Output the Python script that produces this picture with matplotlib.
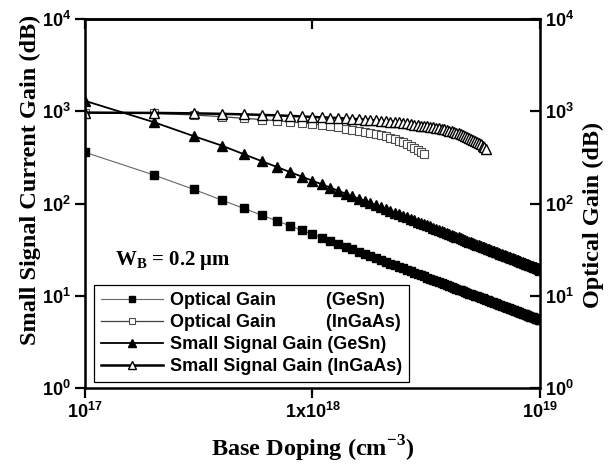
import numpy as np
import matplotlib.pyplot as plt
from matplotlib.font_manager import FontProperties

plt.rcParams['mathtext.fontset'] = 'custom'
plt.rcParams['mathtext.rm'] = 'Liberation Serif:bold'
plt.rcParams['mathtext.bf'] = 'Liberation Serif:bold'
plt.rcParams['mathtext.sf'] = 'Liberation Sans:bold'

# base doping, steps of 1e17 cm^-3
doping = np.arange(1, 101) * 1e17

# optical gain, GeSn (dB)
opt_gesn = [360, 205, 143, 109, 88.7, 74.9, 64.9, 57.3, 51.4, 46.6,
            42.6, 39.3, 36.5, 34.0, 31.9, 30.1, 28.4, 27.0, 25.5, 24.4,
            23.4, 22.4, 21.5, 20.6, 19.9, 19.1, 18.5, 17.9, 17.3, 16.8,
            16.3, 15.8, 15.3, 14.9, 14.5, 14.1, 13.8, 13.5, 13.1, 12.8,
            12.5, 12.3, 12.0, 11.7, 11.5, 11.3, 11.0, 10.8, 10.6, 10.4,
            10.2, 10.05, 9.87, 9.70, 9.54, 9.38, 9.23, 9.08, 8.94, 8.80,
            8.66, 8.53, 8.41, 8.28, 8.17, 8.05, 7.94, 7.83, 7.73, 7.62,
            7.52, 7.42, 7.33, 7.24, 7.15, 7.06, 6.98, 6.89, 6.81, 6.73,
            6.66, 6.58, 6.51, 6.43, 6.36, 6.29, 6.23, 6.16, 6.10, 6.03,
            5.97, 5.91, 5.85, 5.79, 5.74, 5.68, 5.63, 5.58, 5.52, 5.47]

# optical gain, InGaAs (dB)
opt_ingaas = [965, 950, 915, 875, 840, 815, 790, 770, 750, 730,
              710, 690, 670, 650, 632, 615, 598, 580, 565, 550,
              535, 518, 500, 482, 462, 442, 422, 402, 382, 362, 342]

# small signal current gain, GeSn (dB)
ss_gesn = [1300, 766, 540, 425, 343, 288, 249, 219, 196, 177,
           162, 149, 138, 128, 120, 113, 107, 101, 95.9, 91.3,
           87.2, 83.4, 79.9, 76.7, 73.8, 71.1, 68.6, 66.2, 64.0, 62.0,
           60.1, 58.3, 56.6, 55.0, 53.5, 52.1, 50.7, 49.5, 48.3, 47.1,
           46.0, 45.0, 44.0, 43.0, 42.1, 41.2, 40.4, 39.6, 38.8, 38.1,
           37.3, 36.7, 36.0, 35.4, 34.7, 34.2, 33.6, 33.0, 32.5, 32.0,
           31.5, 31.0, 30.5, 30.1, 29.6, 29.2, 28.8, 28.4, 28.0, 27.6,
           27.2, 26.9, 26.5, 26.2, 25.8, 25.5, 25.2, 24.9, 24.6, 24.3,
           24.0, 23.7, 23.5, 23.2, 22.9, 22.7, 22.4, 22.2, 22.0, 21.7,
           21.5, 21.3, 21.0, 20.8, 20.6, 20.4, 20.2, 20.0, 19.8, 19.1]

# small signal current gain, InGaAs (dB)
ss_ingaas = [970, 962, 952, 940, 928, 916, 904, 893, 881, 870,
             862, 854, 846, 838, 830, 822, 814, 806, 798, 790,
             782, 774, 766, 758, 750, 740, 730, 720, 710, 700,
             693, 686, 679, 671, 663, 655, 646, 637, 627, 617,
             607, 597, 587, 577, 566, 555, 543, 531, 519, 507,
             495, 482, 468, 454, 440, 425, 408, 388]

labels = ['Optical Gain          (GeSn)',
          'Optical Gain          (InGaAs)',
          'Small Signal Gain (GeSn)',
          'Small Signal Gain (InGaAs)']

fig = plt.figure(figsize=(6.12, 4.66), dpi=100)
ax = fig.add_axes([0.139, 0.167, 0.743, 0.792])

ax.plot(doping, opt_gesn, '-', color='0.4', lw=0.8, marker='s', ms=5.5,
        mfc='k', mec='k', label=labels[0])
ax.plot(doping[:len(opt_ingaas)], opt_ingaas, '-', color='0.25', lw=0.9,
        marker='s', ms=5.2, mfc='white', mec='0.3', mew=0.8, label=labels[1])
ax.plot(doping, ss_gesn, '-', color='k', lw=1.3, marker='^', ms=7.5,
        mfc='k', mec='k', label=labels[2])
ax.plot(doping[:len(ss_ingaas)], ss_ingaas, '-', color='k', lw=1.8,
        marker='^', ms=7.5, mfc='white', mec='k', mew=1, label=labels[3])

ax.set_xscale('log')
ax.set_yscale('log')
ax.set_xlim(1e17, 1e19)
ax.set_ylim(1, 1e4)

yt = [1, 10, 100, 1000, 10000]
ytl = [r'$\mathsf{10^{%d}}$' % i for i in range(5)]
ax.set_yticks(yt)
ax.set_yticklabels(ytl)
ax.set_xticks([1e17, 1e18, 1e19])
ax.set_xticklabels([r'$\mathsf{10^{17}}$', r'$\mathsf{1x10^{18}}$', r'$\mathsf{10^{19}}$'])
ax.minorticks_off()
ax.tick_params(direction='out', length=7, width=1.6, labelsize=13, pad=3)

for s in ax.spines.values():
    s.set_linewidth(1.8)

tw = ax.twinx()
tw.set_yscale('log')
tw.set_ylim(1, 1e4)
tw.set_yticks(yt)
tw.set_yticklabels(ytl)
tw.minorticks_off()
tw.tick_params(direction='in', length=7, width=1.6, labelsize=13, pad=4)

top = ax.secondary_xaxis('top')
top.set_xticks([1e17, 1e18, 1e19])
top.minorticks_off()
top.tick_params(direction='in', length=7, width=1.6, labeltop=False)
top.spines['top'].set_linewidth(1.8)

serif = dict(family='Liberation Serif', weight='bold', size=17.5)
ax.set_xlabel('Base Doping (cm$^{-3}$)', fontdict=serif, labelpad=8)
ax.set_ylabel('Small Signal Current Gain (dB)', fontdict=serif)
ax.yaxis.set_label_coords(-0.098, 0.565)
tw.set_ylabel('Optical Gain (dB)', fontdict=serif, rotation=90)
tw.yaxis.set_label_coords(1.095, 0.47)

ax.text(0.065, 0.345, r'$\mathbf{W_B}$ = 0.2 $\mathbf{\mu}$m', transform=ax.transAxes,
        fontdict=dict(family='Liberation Serif', weight='bold', size=15),
        va='center')

leg = ax.legend(loc='lower left', bbox_to_anchor=(0.02, 0.016),
                prop=FontProperties(family='Liberation Sans', weight='bold', size=13),
                frameon=True, fancybox=False, edgecolor='k', framealpha=1,
                handlelength=3.4, handletextpad=0.4, labelspacing=0.28,
                borderpad=0.4, borderaxespad=0, markerscale=0.75)
leg.get_frame().set_linewidth(0.9)

plt.savefig('out.png', dpi=100)
